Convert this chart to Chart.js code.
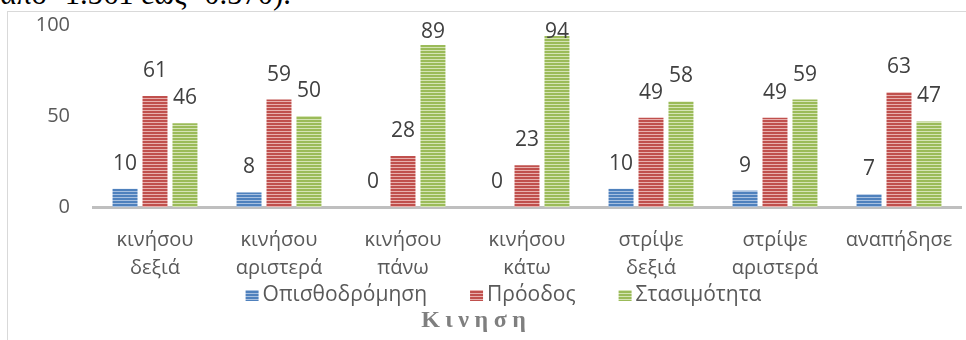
<!DOCTYPE html>
<html>
<head>
<meta charset="utf-8">
<script src="https://cdn.jsdelivr.net/npm/chart.js@4/dist/chart.umd.min.js"></script>
<style>
  html, body { margin: 0; padding: 0; background: #fff; overflow: hidden; }
  #wrap { position: relative; width: 966px; height: 340px; overflow: hidden; }
  #frame { position: absolute; left: 7px; top: 11px; width: 1100px; height: 500px;
           border-left: 1px solid #d9d9d9; border-top: 1.5px solid #d9d9d9; box-sizing: border-box; }
  #toptext { position: absolute; left: 0; top: -18px; font-family: "Liberation Serif", serif;
             font-size: 24px; line-height: 24px; color: #000; white-space: nowrap; }
  canvas { position: absolute; left: 0; top: 0; }
</style>
</head>
<body>
<div id="wrap">
  <div id="frame"></div>
  <div id="toptext">από -1.561 έως -0.570).</div>
  <canvas id="c" width="966" height="340"></canvas>
</div>
<script>
// ---- data ----
const categories = [
  ['κινήσου', 'δεξιά'],
  ['κινήσου', 'αριστερά'],
  ['κινήσου', 'πάνω'],
  ['κινήσου', 'κάτω'],
  ['στρίψε', 'δεξιά'],
  ['στρίψε', 'αριστερά'],
  ['αναπήδησε']
];
const seriesNames = ['Οπισθοδρόμηση', 'Πρόοδος', 'Στασιμότητα'];
const regression = [10, 8, 0, 0, 10, 9, 7];
const progress   = [61, 59, 28, 23, 49, 49, 63];
const stagnation = [46, 50, 89, 94, 58, 59, 47];
const yTicks = [0, 50, 100];
const axisTitle = 'Κινηση';

// fit the cropped top text width
(function () {
  const el = document.getElementById('toptext');
  const w = el.getBoundingClientRect().width;
  if (w > 0) el.style.fontSize = (24 * 291 / w) + 'px';
})();

function stripe(dark, light) {
  const p = document.createElement('canvas');
  p.width = 4; p.height = 3;
  const g = p.getContext('2d');
  g.fillStyle = dark; g.fillRect(0, 0, 4, 2);
  g.fillStyle = light; g.fillRect(0, 2, 4, 1);
  return document.getElementById('c').getContext('2d').createPattern(p, 'repeat');
}
const fills = [
  stripe('#4F81BD', '#A7C0E0'),
  stripe('#C0504D', '#E8B0AE'),
  stripe('#9BBB59', '#D5E4B5')
];

const FONT = '"Open Sans", "Noto Sans", sans-serif';
const TXT = '#595959';

const dataLabels = {
  id: 'dataLabels',
  afterDatasetsDraw(chart) {
    const ctx = chart.ctx;
    const top = chart.chartArea.top;
    ctx.save();
    ctx.font = '21px ' + FONT;
    ctx.fillStyle = '#404040';
    ctx.textAlign = 'center';
    ctx.textBaseline = 'middle';
    chart.data.datasets.forEach((ds, i) => {
      const meta = chart.getDatasetMeta(i);
      meta.data.forEach((bar, j) => {
        const y = Math.max(bar.y - 25, top + 7);
        ctx.fillText(String(ds.data[j]), bar.x, y);
      });
    });
    ctx.restore();
  }
};

const legendAndTitle = {
  id: 'legendAndTitle',
  afterDraw(chart) {
    const ctx = chart.ctx;
    ctx.save();
    ctx.font = '21px ' + FONT;
    ctx.textBaseline = 'middle';
    ctx.textAlign = 'left';
    const box = 13, gapIn = 4, gapOut = 43;
    const widths = chart.data.datasets.map(d => ctx.measureText(d.label).width);
    let total = widths.reduce((a, b) => a + b, 0) + chart.data.datasets.length * (box + gapIn) + (chart.data.datasets.length - 1) * gapOut;
    let x = 503.5 - total / 2;
    const cy = 295.5;
    chart.data.datasets.forEach((d, i) => {
      ctx.fillStyle = fills[i];
      ctx.fillRect(x, cy - 5.5, box, 11);
      x += box + gapIn;
      ctx.fillStyle = TXT;
      ctx.fillText(d.label, x, cy);
      x += widths[i] + gapOut;
    });
    // axis title with spaced letters
    ctx.font = 'bold 24px "Liberation Serif", serif';
    ctx.fillStyle = '#7F7F7F';
    const chars = Array.from(axisTitle);
    const spacing = 5.5;
    const cw = chars.map(ch => ctx.measureText(ch).width);
    const tw = cw.reduce((a, b) => a + b, 0) + spacing * (chars.length - 1);
    let tx = 473.5 - tw / 2;
    chars.forEach((ch, i) => { ctx.fillText(ch, tx, 321); tx += cw[i] + spacing; });
    ctx.restore();
  }
};

const datasets = [regression, progress, stagnation].map((vals, i) => ({
  label: seriesNames[i],
  data: vals,
  backgroundColor: fills[i],
  borderWidth: 0,
  barPercentage: 0.833,
  categoryPercentage: 0.725
}));

new Chart(document.getElementById('c'), {
  type: 'bar',
  data: { labels: categories, datasets },
  options: {
    responsive: false,
    animation: false,
    layout: { padding: { left: 0, top: 25, right: 5, bottom: 0 } },
    plugins: { legend: { display: false }, tooltip: { enabled: false }, title: { display: false } },
    scales: {
      x: {
        z: 1,
        grid: { display: false, drawTicks: false },
        border: { display: true, color: '#BFBFBF', width: 3 },
        ticks: { color: TXT, font: { family: FONT, size: 20, lineHeight: 1.4 }, padding: 19, maxRotation: 0, autoSkip: false },
        afterFit(s) { s.height = 133; s.paddingLeft = 0; s.paddingRight = 0; }
      },
      y: {
        min: 0, max: 100,
        afterBuildTicks(s) { s.ticks = yTicks.map(v => ({ value: v })); },
        grid: { display: false, drawTicks: false },
        border: { display: false },
        ticks: { color: TXT, font: { family: FONT, size: 20 }, padding: 23 },
        afterFit(s) { s.width = 93; s.paddingTop = 0; s.paddingBottom = 0; }
      }
    }
  },
  plugins: [dataLabels, legendAndTitle]
});
</script>
</body>
</html>
